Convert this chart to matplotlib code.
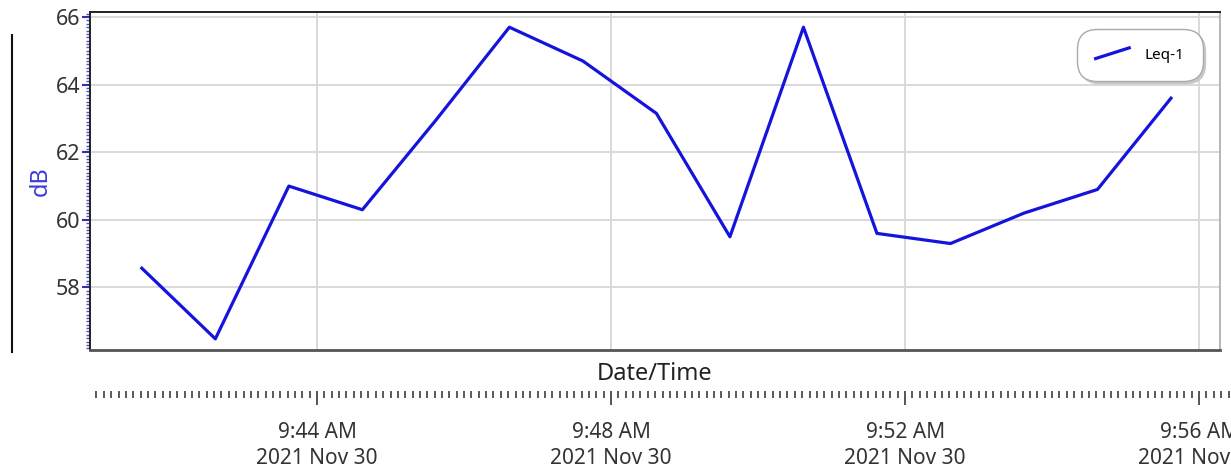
import matplotlib
matplotlib.use("Agg")
import matplotlib.pyplot as plt
import matplotlib.dates as mdates
from matplotlib.lines import Line2D
from matplotlib.legend_handler import HandlerLine2D
import pandas as pd

plt.rcParams['font.family'] = ['Noto Sans', 'DejaVu Sans']

# data (one reading per minute)
times = ['2021-11-30 09:41:37', '2021-11-30 09:42:37', '2021-11-30 09:43:37',
         '2021-11-30 09:44:37', '2021-11-30 09:45:37', '2021-11-30 09:46:37',
         '2021-11-30 09:47:37', '2021-11-30 09:48:37', '2021-11-30 09:49:37',
         '2021-11-30 09:50:37', '2021-11-30 09:51:37', '2021-11-30 09:52:37',
         '2021-11-30 09:53:37', '2021-11-30 09:54:37', '2021-11-30 09:55:37']
leq1 = [58.57, 56.48, 61.0, 60.3, 62.95, 65.7, 64.7, 63.15, 59.5, 65.7,
        59.6, 59.3, 60.2, 60.9, 63.6]
series_name = 'Leq-1'
y_label = 'dB'
x_label = 'Date/Time'

t = pd.to_datetime(times)
xmin = pd.Timestamp('2021-11-30 09:40:54.7')
xmax = pd.Timestamp('2021-11-30 09:56:17')
xmax_ruler = pd.Timestamp('2021-11-30 09:56:26')

W, H = 1231, 470
fig = plt.figure(figsize=(W / 100, H / 100), dpi=100)

ax = fig.add_axes([90 / W, (H - 350) / H, 1130 / W, 338 / H])
line_color = '#1414dc'
ax.plot(t, leq1, color=line_color, lw=2.3, label=series_name)
ax.set_xlim(xmin, xmax)
ax.set_ylim(56.15, 66.15)

ax.yaxis.set_major_locator(plt.MultipleLocator(2))
ax.yaxis.set_minor_locator(plt.MultipleLocator(0.1))
ax.tick_params(axis='y', which='major', length=6, width=1.5, color='#3030b0',
               labelsize=15.5, labelcolor='#333333', pad=1)
ax.tick_params(axis='y', which='minor', length=3, width=1, color='#5050c8')
ax.set_ylabel(y_label, color='#3c3cdc', fontsize=17, labelpad=2)

ax.xaxis.set_major_locator(mdates.MinuteLocator(byminute=[44, 48, 52, 56]))
ax.tick_params(axis='x', which='both', bottom=False, labelbottom=False)
ax.grid(True, color='#d9d9d9', lw=1.4)
ax.set_axisbelow(True)

for side in ['top', 'left']:
    ax.spines[side].set_color('#222222')
    ax.spines[side].set_linewidth(1.4)
ax.spines['bottom'].set_color('#555555')
ax.spines['bottom'].set_linewidth(2)
ax.spines['right'].set_color('#aaaaaa')
ax.spines['right'].set_linewidth(1.2)


class DiagHandler(HandlerLine2D):
    def create_artists(self, legend, orig_handle, xdescent, ydescent,
                       width, height, fontsize, trans):
        ln = Line2D([0, width], [0, height], color=orig_handle.get_color(),
                    lw=orig_handle.get_linewidth(), transform=trans)
        return [ln]


leg = ax.legend(loc='upper right', bbox_to_anchor=(0.982, 0.94),
                borderaxespad=0, fontsize=11, fancybox=True,
                shadow={'color': '#c8c8c8', 'alpha': 1},
                framealpha=1, handlelength=2.2, handletextpad=1.0,
                borderpad=1.0, handler_map={Line2D: DiagHandler()})
leg.get_frame().set_edgecolor('#aaaaaa')
leg.get_frame().set_boxstyle('round', pad=0.2, rounding_size=1.3)
leg.set_zorder(5)

# separate date/time ruler below the plot
ax2 = fig.add_axes([90 / W, (H - 398) / H, (W - 90) / W, 0.0001])
ax2.set_xlim(xmin, xmax_ruler)
ax2.set_yticks([])
for s in ax2.spines.values():
    s.set_visible(False)
ax2.xaxis.set_major_locator(mdates.MinuteLocator(byminute=[44, 48, 52, 56]))
ax2.xaxis.set_minor_locator(mdates.SecondLocator(bysecond=range(0, 60, 6)))


def fmt(v, pos=None):
    d = mdates.num2date(v)
    return d.strftime('%I:%M %p').lstrip('0') + '\n' + d.strftime('%Y %b %d')


ax2.xaxis.set_major_formatter(plt.FuncFormatter(fmt))
ax2.tick_params(axis='x', which='minor', direction='in', length=5, width=1.4,
                color='#5a5a5a')
ax2.tick_params(axis='x', which='major', direction='inout', length=10,
                width=1.4, color='#555555', labelsize=15,
                labelcolor='#333333', pad=12)
for lbl in ax2.get_xticklabels():
    lbl.set_linespacing(1.35)
fig.text(655 / W, 1 - 374 / H, x_label, ha='center', va='center',
         fontsize=17, color='#222222')

# stray frame line at the left edge of the screenshot
fig.add_artist(Line2D([12 / W, 12 / W], [1 - 352 / H, 1 - 35 / H],
                      color='#111111', lw=1.5))

fig.savefig('out.png', dpi=100)
